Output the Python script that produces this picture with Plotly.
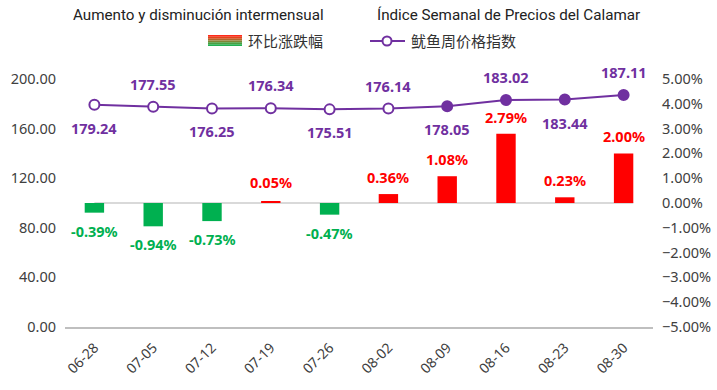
import plotly.graph_objects as go

# ---- data ----
dates = ["06-28", "07-05", "07-12", "07-19", "07-26", "08-02", "08-09", "08-16", "08-23", "08-30"]
index_values = [179.24, 177.55, 176.25, 176.34, 175.51, 176.14, 178.05, 183.02, 183.44, 187.11]
mom_change = [-0.39, -0.94, -0.73, 0.05, -0.47, 0.36, 1.08, 2.79, 0.23, 2.00]
label_above = [False, True, False, True, False, True, False, True, False, True]
hollow_marker = [True, True, True, True, True, True, False, False, False, False]

title_left = "Aumento y disminución intermensual"
title_right = "Índice Semanal de Precios del Calamar"
bar_name = "环比涨跌幅"
line_name = "鱿鱼周价格指数"

# ---- style ----
PURPLE = "#7030A0"
RED = "#FF0000"
GREEN = "#00B050"
TICK_FONT = dict(family="Noto Sans", size=14.5, color="#404040")
LABEL_FAMILY = "Noto Sans"
BAR_WIDTH = 0.33

W, H = 717, 390
# plot area in screen pixels: x 65..653, y 79..327
L, R, T, B = 65, W - 653, 79, H - 327
PW, PH = W - L - R, H - T - B


def px_x(px):
    return (px - L) / PW


def px_y(py):
    return (H - B - py) / PH


bar_colors = [RED if v >= 0 else GREEN for v in mom_change]
marker_fill = ["white" if h else PURPLE for h in hollow_marker]

fig = go.Figure()
fig.add_trace(go.Bar(
    x=dates, y=mom_change, yaxis="y2", width=BAR_WIDTH,
    marker=dict(color=bar_colors, line=dict(width=0)),
    name=bar_name, showlegend=False,
))
fig.add_trace(go.Scatter(
    x=dates, y=index_values, yaxis="y", mode="lines+markers",
    line=dict(color=PURPLE, width=2),
    marker=dict(size=10, color=marker_fill, line=dict(color=PURPLE, width=2)),
    name=line_name, showlegend=False,
))

annotations = []
for d, v, up in zip(dates, index_values, label_above):
    annotations.append(dict(
        x=d, y=v, xref="x", yref="y", showarrow=False,
        xanchor="center", yanchor="middle",
        text=f"<b>{v:.2f}</b>", yshift=23 if up else -23,
        font=dict(family=LABEL_FAMILY, size=14.5, color=PURPLE),
    ))
for d, v, c in zip(dates, mom_change, bar_colors):
    if v >= 0:
        ys = 20 if v < 0.2 else 17
    else:
        ys = -18
    annotations.append(dict(
        x=d, y=v, xref="x", yref="y2", showarrow=False,
        xanchor="center", yanchor="middle",
        text=f"<b>{v:.2f}%</b>", yshift=ys,
        font=dict(family=LABEL_FAMILY, size=14.5, color=c),
    ))

# titles
for txt, cx in ((title_left, 198), (title_right, 509)):
    annotations.append(dict(x=px_x(cx), y=px_y(15), xref="paper", yref="paper",
                            xanchor="center", yanchor="middle",
                            text=txt, showarrow=False,
                            font=dict(family="Roboto", size=15.2, color="#222222")))
# legend texts
for txt, lx in ((bar_name, 246), (line_name, 409)):
    annotations.append(dict(x=px_x(lx), y=px_y(41), xref="paper", yref="paper",
                            xanchor="left", yanchor="middle", text=txt, showarrow=False,
                            font=dict(family="Noto Sans CJK SC", size=15, color="#333333")))

shapes = []
# zero line of the percentage axis (from first category centre to last bar edge)
shapes.append(dict(type="line", xref="x", yref="y2", layer="below",
                   x0=0, x1=len(dates) - 1 + BAR_WIDTH / 2, y0=0, y1=0,
                   line=dict(color="#D9D9D9", width=2)))
# gradient legend swatch (red top -> green bottom)
grad = ["#FF2A1A", "#E0461C", "#B0652A", "#7E8536", "#4A9E42", "#22B050"]
top, bot = 35, 46
n = len(grad)
for i, c in enumerate(grad):
    y0 = top + (bot - top) * i / n
    y1 = top + (bot - top) * (i + 1) / n
    shapes.append(dict(type="rect", xref="paper", yref="paper",
                       x0=px_x(208), x1=px_x(242), y0=px_y(y1), y1=px_y(y0),
                       fillcolor=c, line=dict(width=0)))
# line legend swatch
shapes.append(dict(type="line", xref="paper", yref="paper",
                   x0=px_x(370), x1=px_x(405), y0=px_y(41), y1=px_y(41),
                   line=dict(color=PURPLE, width=2)))
shapes.append(dict(type="circle", xref="paper", yref="paper",
                   x0=px_x(382.5), x1=px_x(391.5), y0=px_y(45.5), y1=px_y(36.5),
                   fillcolor="white", line=dict(color=PURPLE, width=2)))

fig.update_layout(
    width=W, height=H,
    margin=dict(l=L, r=R, t=T, b=B, autoexpand=False),
    paper_bgcolor="white", plot_bgcolor="white",
    annotations=annotations, shapes=shapes,
    xaxis=dict(type="category", range=[-0.5, len(dates) - 0.5],
               showgrid=False, showline=True,
               linecolor="#BFBFBF", linewidth=2, tickangle=-45,
               tickfont=dict(family="Noto Sans", size=14, color="#404040"),
               ticks="", zeroline=False, automargin=False, ticklabelstandoff=5),
    yaxis=dict(range=[0, 200], dtick=40, tickformat=".2f", showgrid=False,
               zeroline=False, showline=False, tickfont=TICK_FONT,
               ticklabelstandoff=8, automargin=False),
    yaxis2=dict(range=[-5, 5], dtick=1, tickformat=".2f", ticksuffix="%",
                overlaying="y", side="right", showgrid=False,
                zeroline=False,
                showline=False, tickfont=TICK_FONT, ticklabelstandoff=8,
                automargin=False),
    showlegend=False,
)

fig.write_html(
    "out.html",
    config={"displayModeBar": False},
    post_script="document.body.style.margin='0px';document.body.style.overflow='hidden';",
)
